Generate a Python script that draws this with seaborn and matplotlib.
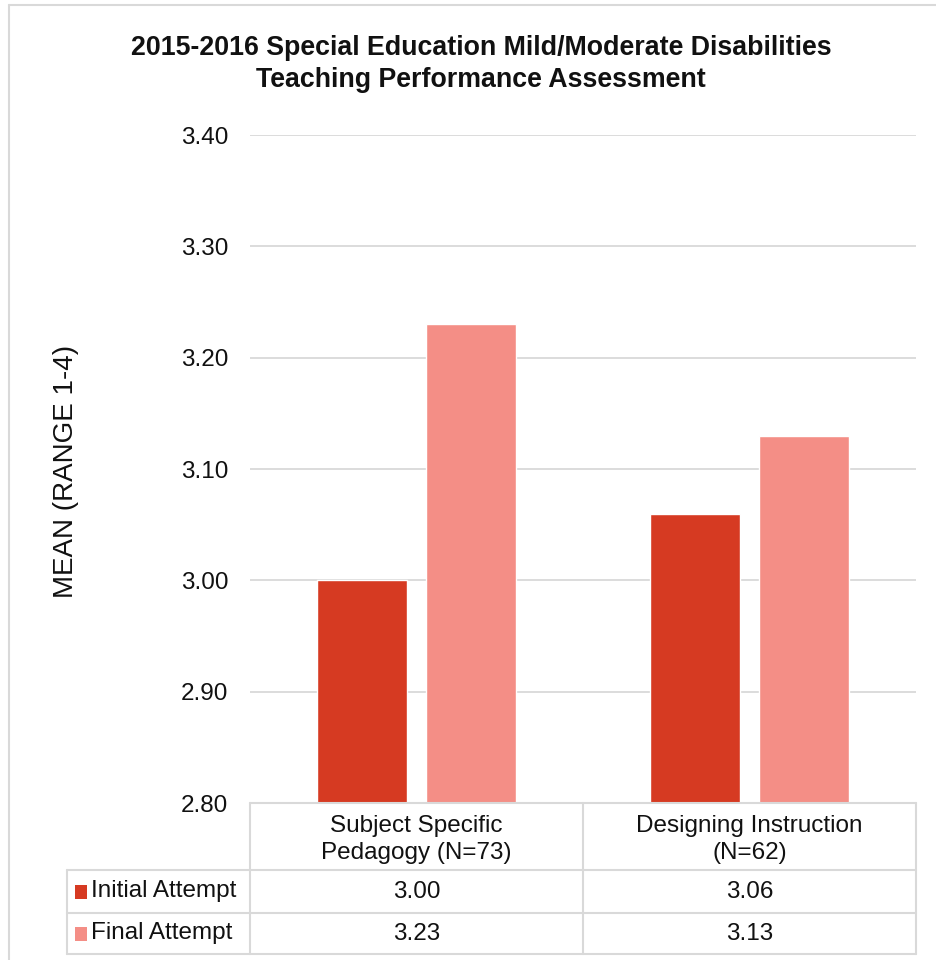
import matplotlib
matplotlib.use("Agg")
import matplotlib.pyplot as plt
from matplotlib.lines import Line2D
from matplotlib.patches import Rectangle
import seaborn as sns
import pandas as pd

categories = ["Subject Specific\nPedagogy (N=73)", "Designing Instruction\n(N=62)"]
series = ["Initial Attempt", "Final Attempt"]
initial_vals = [3.00, 3.06]
final_vals = [3.23, 3.13]
colors = ["#D63A22", "#F48E86"]
yticks = [2.80, 2.90, 3.00, 3.10, 3.20, 3.30, 3.40]

df = pd.DataFrame({
    "category": categories * 2,
    "series": [series[0]] * 2 + [series[1]] * 2,
    "value": initial_vals + final_vals,
})

sns.set_theme(style="white")
plt.rcParams["font.family"] = ["Liberation Sans", "DejaVu Sans"]

W, H = 936, 960
fig = plt.figure(figsize=(W / 100, H / 100), dpi=100)

def fx(px):
    return px / W

def fy(py):
    return 1 - py / H

left, right, top, bottom = 250, 916, 135, 803
ax = fig.add_axes([fx(left), fy(bottom), fx(right - left), (bottom - top) / H])

sns.barplot(data=df, x="category", y="value", hue="series", hue_order=series,
            palette=colors, width=0.65, gap=0.17, ax=ax, legend=False,
            saturation=1, zorder=3)

ax.set_ylim(2.80, 3.40)
ax.set_yticks(yticks)
ax.set_yticklabels([f"{v:.2f}" for v in yticks], fontsize=17.5, color="#111111")
ax.yaxis.grid(True, color="#d9d9d9", linewidth=1.3, zorder=0)
ax.set_axisbelow(True)
ax.tick_params(axis="y", length=0, pad=15.5)
ax.set_xticks([])
ax.set_xlabel("")
ax.set_ylabel("")
for s in ax.spines.values():
    s.set_visible(False)
ax.set_xlim(-0.5, 1.5)

fig.text(fx(66), fy(471), "MEAN (RANGE 1-4)", rotation=90, ha="center",
         va="center", fontsize=20, color="#111111")

fig.text(fx(481), fy(48), "2015-2016 Special Education Mild/Moderate Disabilities",
         ha="center", va="center", fontsize=19.3, fontweight="bold", color="#111111")
fig.text(fx(481), fy(80), "Teaching Performance Assessment",
         ha="center", va="center", fontsize=19.3, fontweight="bold", color="#111111")

# data table beneath the axis
grid_c = "#d9d9d9"
lw = 1.5
tbl_left, col1, col2, tbl_right = 67, 250, 583, 916
row0, row1, row2, row3 = 803, 870, 913, 954

def hline(y, x0, x1):
    fig.add_artist(Line2D([fx(x0), fx(x1)], [fy(y), fy(y)], color=grid_c, lw=lw))

def vline(x, y0, y1):
    fig.add_artist(Line2D([fx(x), fx(x)], [fy(y0), fy(y1)], color=grid_c, lw=lw))

hline(row0, col1, tbl_right)
hline(row1, tbl_left, tbl_right)
hline(row2, tbl_left, tbl_right)
hline(row3, tbl_left, tbl_right)
vline(tbl_left, row1, row3)
vline(col1, row0, row3)
vline(col2, row0, row3)
vline(tbl_right, row0, row3)

col_centers = [(col1 + col2) / 2, (col2 + tbl_right) / 2]
for cx, cat in zip(col_centers, categories):
    fig.text(fx(cx), fy((row0 + row1) / 2 + 3), cat, ha="center", va="center",
             fontsize=17.5, color="#111111", linespacing=1.35)

rows = [(row1, row2, initial_vals), (row2, row3, final_vals)]
for (ya, yb, vals), name, col in zip(rows, series, colors):
    yc = (ya + yb) / 2
    fig.add_artist(Rectangle((fx(75), fy(yc + 7)), fx(12), 14 / H,
                             facecolor=col, edgecolor="none"))
    fig.text(fx(91), fy(yc), name, ha="left", va="center", fontsize=17.5, color="#111111")
    for cx, v in zip(col_centers, vals):
        fig.text(fx(cx), fy(yc), f"{v:.2f}", ha="center", va="center",
                 fontsize=17.5, color="#111111")

# outer frame edges
fig.add_artist(Line2D([fx(9), fx(9)], [fy(5), 0], color="#d9d9d9", lw=1.5))
fig.add_artist(Line2D([fx(9), 1], [fy(5), fy(5)], color="#d9d9d9", lw=1.5))

fig.savefig("out.png", dpi=100, facecolor="white")
